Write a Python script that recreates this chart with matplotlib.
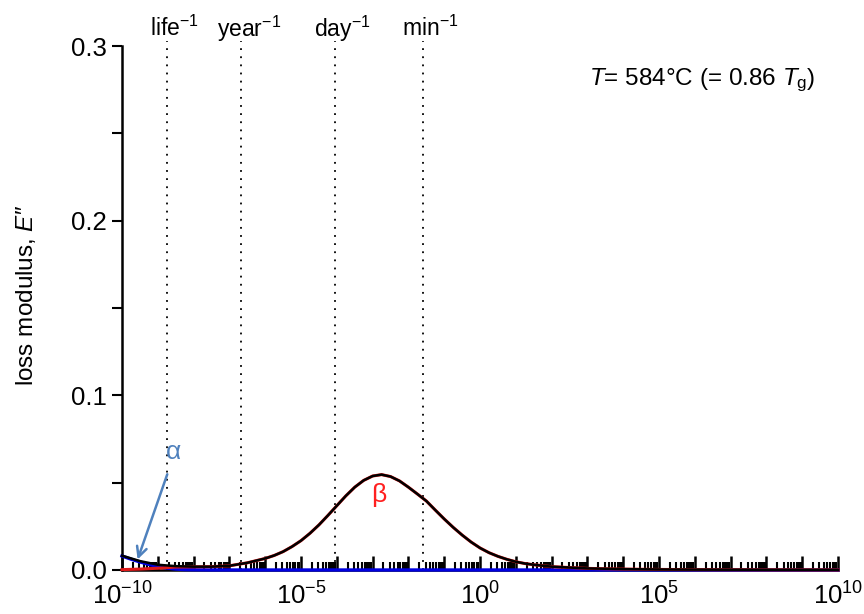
import numpy as np
import matplotlib
matplotlib.use("Agg")
import matplotlib.pyplot as plt
from matplotlib.ticker import FixedLocator, FuncFormatter, MultipleLocator
from matplotlib.transforms import blended_transform_factory, offset_copy

plt.rcParams["font.family"] = ["Liberation Sans", "DejaVu Sans"]
plt.rcParams["mathtext.fontset"] = "custom"
plt.rcParams["mathtext.rm"] = "Liberation Sans"
plt.rcParams["mathtext.it"] = "Liberation Sans:italic"
plt.rcParams["mathtext.default"] = "regular"

# angular frequency (log10) and loss-modulus components
alpha_lg = [-10, -9.75, -9.5, -9.25, -9, -8.75, -8.5, -8.25, -8, -7.5, 10]
alpha_val = [0.0080, 0.0062, 0.0046, 0.0032, 0.0020, 0.0011, 0.0005, 0.0002, 0.0001, 0.0, 0.0]

beta_lg = [-10, -9.5, -9, -8.5, -8, -7.5, -7, -6.5,
           -6, -5.75, -5.5, -5.25, -5, -4.75, -4.5, -4.25, -4, -3.75, -3.5, -3.25,
           -3, -2.75, -2.5, -2.25, -2, -1.75, -1.5, -1.25, -1, -0.75, -0.5, -0.25,
           0, 0.25, 0.5, 0.75, 1, 1.25, 1.5, 2, 3, 4, 5, 6, 8, 10]
beta_val = [0.0002, 0.0005, 0.0010, 0.0017, 0.0018, 0.0019, 0.0024, 0.0041,
            0.0066, 0.0083, 0.0105, 0.0134, 0.0168, 0.0210, 0.0258, 0.0312, 0.0368, 0.0424, 0.0474, 0.0513,
            0.0538, 0.0546, 0.0535, 0.0510, 0.0474, 0.0435, 0.0395, 0.0343, 0.0292, 0.0244, 0.0200, 0.0160,
            0.0126, 0.0099, 0.0078, 0.0061, 0.0047, 0.0037, 0.0030, 0.0019, 0.0009, 0.0005, 0.0003, 0.0002, 0.0001, 0.00005]

# characteristic time-scale markers
marker_names = ["life$^{-1}$", "year$^{-1}$", "day$^{-1}$", "min$^{-1}$"]
marker_lg = [-8.75, -6.68, -4.06, -1.60]

alpha_w = 10.0 ** np.array(alpha_lg)
beta_w = 10.0 ** np.array(beta_lg)
total_val = np.array(beta_val) + np.interp(beta_lg, alpha_lg, alpha_val)

fig = plt.figure(figsize=(8.64, 6.14), dpi=100)
ax = fig.add_axes([0.1412, 0.0717, 0.8288, 0.8533])

ax.plot(alpha_w, alpha_val, color="#0000e0", lw=2.4, clip_on=False, zorder=4)
ax.plot(beta_w, beta_val, color="#e01a1a", lw=2.2, clip_on=False, zorder=5)
ax.plot(beta_w, total_val, color="black", lw=1.8, clip_on=False, zorder=6)

ax.set_xscale("log")
ax.set_xlim(1e-10, 1e10)
ax.set_ylim(0, 0.3)

for lg in marker_lg:
    ax.axvline(10.0 ** lg, ymin=0, ymax=1.01, color="black", lw=1.3,
               linestyle=(0, (1, 3.5)), clip_on=False, zorder=2)

trans = blended_transform_factory(ax.transData, ax.transAxes)
for name, lg in zip(marker_names, marker_lg):
    ax.text(10.0 ** lg, 1.033, name, transform=offset_copy(trans, fig=fig, x=8, y=0, units="dots"),
            ha="center", va="center", fontsize=16.5)

ax.text(0.968, 0.935, r"$\mathit{T}$= 584°C (= 0.86 $\mathit{T}_{\mathrm{g}}$)",
        transform=ax.transAxes, ha="right", va="center", fontsize=17.5)

ax.text(10.0 ** -8.55, 0.0676, r"α", color="#4f81bd", fontsize=19, ha="center", va="center")
ax.text(10.0 ** -2.84, 0.043, r"β", color="#ff2020", fontsize=19, ha="center", va="center")
ax.annotate("", xy=(10.0 ** -9.59, 0.0045), xytext=(10.0 ** -8.71, 0.0563),
            arrowprops=dict(arrowstyle="->", color="#4f81bd", lw=1.8, mutation_scale=18),
            zorder=7)

# axes styling
for side in ("top", "right"):
    ax.spines[side].set_visible(False)
for side in ("left", "bottom"):
    ax.spines[side].set_linewidth(1.8)

ax.yaxis.set_major_locator(MultipleLocator(0.1))
ax.yaxis.set_minor_locator(MultipleLocator(0.05))
ax.yaxis.set_major_formatter(FuncFormatter(lambda v, p: f"{v:.1f}"))
ax.tick_params(axis="y", which="both", direction="out", length=7, width=1.5, labelsize=18.5, pad=4)

decades = np.arange(-10, 11)
ax.xaxis.set_major_locator(FixedLocator(10.0 ** decades))
minors = [m * 10.0 ** d for d in decades[:-1] for m in range(2, 10)]
ax.xaxis.set_minor_locator(FixedLocator(minors))
ax.xaxis.set_major_formatter(FuncFormatter(
    lambda v, p: (r"$10^{%d}$" % round(np.log10(v))) if round(np.log10(v)) % 5 == 0 else ""))
ax.tick_params(axis="x", which="major", direction="in", length=10, width=1.8, labelsize=18.5, pad=9)
ax.tick_params(axis="x", which="minor", direction="in", length=6, width=1.5)

ax.set_ylabel("loss modulus, $\\mathit{E}$\u2032\u2032", fontsize=17.5)
ax.yaxis.set_label_coords(-0.117, 0.525)

fig.savefig("out.png", dpi=100)
